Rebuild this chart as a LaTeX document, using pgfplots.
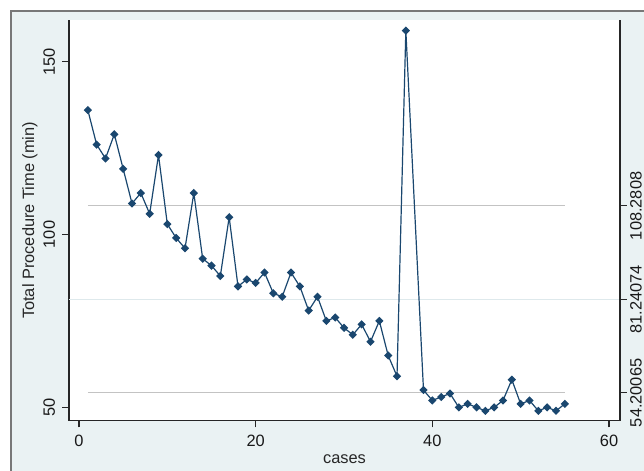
\documentclass[border=0pt]{standalone}
\usepackage{fontspec}
\setmainfont{Liberation Sans}
\usepackage{pgfplots}
\pgfplotsset{compat=1.18}
\definecolor{stnavy}{RGB}{26,71,111}
\definecolor{bgblue}{RGB}{234,242,243}
\definecolor{framegray}{RGB}{120,120,120}
\definecolor{refgray}{RGB}{195,195,195}
\definecolor{gridblue}{RGB}{222,233,236}

\pgfplotsset{
  common/.style={
    scale only axis, width=413.25pt, height=300.5pt,
    at={(0,0)}, anchor=south west,
    xmin=-1.132, xmax=61.245, ymin=46.14, ymax=162.05,
    tick align=outside, major tick length=5pt,
    axis line style={black!85, line width=0.8pt},
    every tick/.style={black!85, line width=0.8pt},
    tick label style={font=\fontsize{12.3}{14}\selectfont, text=black!90},
    label style={font=\fontsize{12.3}{14}\selectfont, text=black!85},
    /pgf/number format/assume math mode=true,
  }
}

\pgfplotstableread{
x y
1 136
2 126
3 122
4 129
5 119
6 109
7 112
8 106
9 123
10 103
11 99
12 96
13 112
14 93
15 91
16 88
17 105
18 85
19 87
20 86
21 89
22 83
23 82
24 89
25 85
26 78
27 82
28 75
29 76
30 73
31 71
32 74
33 69
34 75
35 65
36 59
37 159
39 55
40 52
41 53
42 54
43 50
44 51
45 50
46 49
47 50
48 52
49 58
50 51
51 52
52 49
53 50
54 49
55 51
}\proctime

\begin{document}
\begin{tikzpicture}[x=0.75pt,y=0.75pt]
\useasboundingbox (-69,-50.3) rectangle (575,420.7);
\fill[bgblue] (-58,-50.3) rectangle (575,409.7);
\draw[framegray, line width=0.8pt] (-58,-50.3) -- (-58,409.7) -- (575,409.7);

\begin{axis}[common,
  axis x line*=bottom, axis y line*=left,
  axis background/.style={fill=white},
  xtick={0,20,40,60}, ytick={50,100,150},
  yticklabel style={rotate=90, anchor=south},
  xticklabel shift=2pt, yticklabel shift=2pt,
  xlabel={cases}, ylabel={Total Procedure Time (min)},
  xlabel style={at={(axis description cs:0.5,-0.095)}, anchor=center},
  ylabel style={at={(axis description cs:-0.0708,0.5)}, anchor=center},
]
\addplot[gridblue, line width=0.8pt] coordinates {(-1.132,81.24074) (61.245,81.24074)};
\addplot[refgray, line width=0.8pt] coordinates {(1,108.2808) (55,108.2808)};
\addplot[refgray, line width=0.8pt] coordinates {(1,54.20065) (55,54.20065)};
\addplot[stnavy, line width=0.9pt, mark=square*, mark size=1.75pt,
  mark options={rotate=45, fill=stnavy, draw=stnavy}] table[x=x, y=y] {\proctime};
\end{axis}

\begin{axis}[common,
  axis x line=none, axis y line*=right,
  ytick={54.20065,81.24074,108.2808},
  yticklabels={\textup{54.20065},\textup{81.24074},\textup{108.2808}},
  yticklabel style={rotate=90, anchor=north},
  yticklabel shift=-1pt,
]
\end{axis}
\end{tikzpicture}
\end{document}
